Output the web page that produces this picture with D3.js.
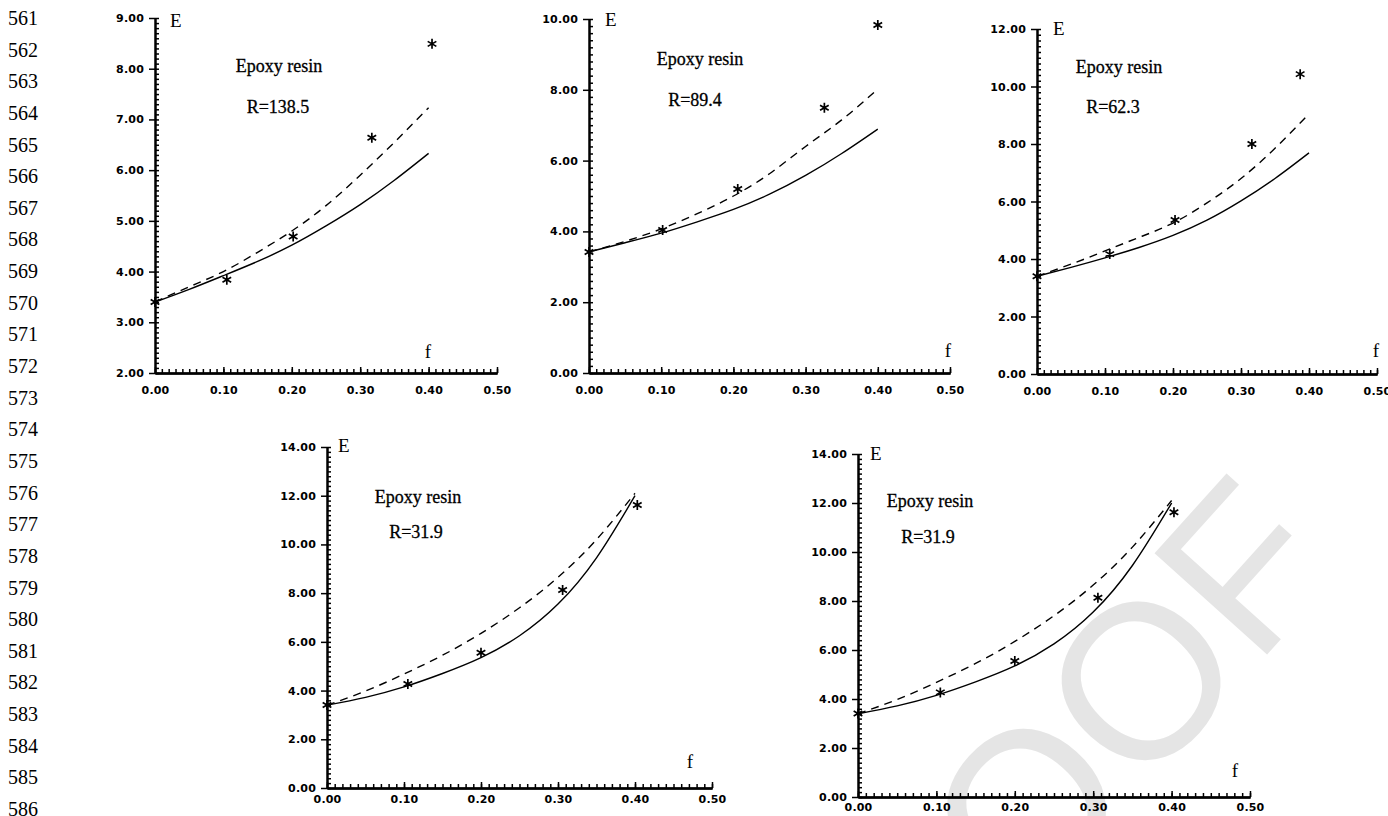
<!DOCTYPE html>
<html>
<head>
<meta charset="utf-8">
<script src="https://cdn.jsdelivr.net/npm/d3@7"></script>
<style>
body{margin:0;background:#fff;}
svg{display:block;}
.ticklab{font-family:"DejaVu Sans",sans-serif;font-size:11px;font-weight:bold;letter-spacing:0.2px;fill:#000;}
.serif{font-family:"Liberation Serif","Times New Roman",serif;fill:#000;}
</style>
</head>
<body>
<svg id="chart" width="1388" height="816"></svg>
<script>
// values
const fGrid = [0, 0.05, 0.10, 0.15, 0.20, 0.25, 0.30, 0.35, 0.40];
const xTickVals = [0, 0.1, 0.2, 0.3, 0.4, 0.5];
const yDomains = [[2, 9], [0, 10], [0, 12], [0, 14], [0, 14]];
const yMajorStep = [1, 2, 2, 2, 2];
const materialName = "Epoxy resin";
const rLabels = ["R=138.5", "R=89.4", "R=62.3", "R=31.9", "R=31.9"];
const lineNumbers = d3.range(561, 587);

const solid1  = [3.40, 3.65, 3.92, 4.20, 4.52, 4.90, 5.32, 5.80, 6.33];
const dashed1 = [3.40, 3.70, 4.00, 4.38, 4.80, 5.30, 5.90, 6.55, 7.23];
const starF1  = [0, 0.105, 0.202, 0.317, 0.405];
const starE1  = [3.40, 3.84, 4.69, 6.64, 8.49];

const solid2  = [3.42, 3.68, 3.95, 4.27, 4.62, 5.05, 5.58, 6.20, 6.89];
const dashed2 = [3.42, 3.72, 4.07, 4.50, 5.00, 5.63, 6.40, 7.15, 8.02];
const starF2  = [0, 0.102, 0.206, 0.326, 0.40];
const starE2  = [3.42, 4.04, 5.20, 7.49, 9.83];

const solid3  = [3.40, 3.71, 4.04, 4.40, 4.82, 5.35, 6.02, 6.80, 7.69];
const dashed3 = [3.40, 3.82, 4.28, 4.75, 5.25, 5.95, 6.80, 7.85, 9.05];
const starF3  = [0, 0.107, 0.203, 0.316, 0.387];
const starE3  = [3.40, 4.17, 5.36, 8.00, 10.43];

// bottom two panels show the same case
const solid4  = [3.40, 3.72, 4.15, 4.70, 5.35, 6.25, 7.55, 9.45, 12.00];
const dashed4 = [3.40, 3.98, 4.68, 5.45, 6.35, 7.40, 8.65, 10.20, 12.10];
const starF4  = [0, 0.105, 0.20, 0.306, 0.403];
const starE4  = [3.41, 4.27, 5.55, 8.13, 11.62];

const solids  = [solid1, solid2, solid3, solid4, solid4];
const dasheds = [dashed1, dashed2, dashed3, dashed4, dashed4];
const starFs  = [starF1, starF2, starF3, starF4, starF4];
const starEs  = [starE1, starE2, starE3, starE4, starE4];

// panel frames in page pixels
const layout = [
  {x0:155, x1:497, yTop:18, yBot:373, labDy:20, E:[170,27], name:[279,72], r:[278,113], f:[428,358]},
  {x0:589, x1:950, yTop:19, yBot:373, labDy:20, E:[605,26], name:[700,65], r:[695,106], f:[948,357]},
  {x0:1037, x1:1377, yTop:29, yBot:374, labDy:20, E:[1053,35], name:[1119,73], r:[1113,113], f:[1376,357]},
  {x0:327, x1:712, yTop:447, yBot:788, labDy:14, E:[338,452], name:[418,503], r:[416,538], f:[690,768]},
  {x0:858, x1:1250, yTop:454, yBot:797, labDy:13, E:[870,460], name:[930,507], r:[928,543], f:[1235,777]}
];

const svg = d3.select("#chart");

// watermark
svg.append("text")
  .attr("transform", "translate(1040,820) rotate(-48)")
  .attr("text-anchor", "middle")
  .attr("dominant-baseline", "middle")
  .style("font-family", "Liberation Sans, Arial, sans-serif")
  .style("font-size", "220px")
  .style("fill", "#e5e5e5")
  .text("PROOF");

// line numbers down the margin
svg.append("g").selectAll("text")
  .data(lineNumbers)
  .join("text")
  .attr("class", "serif")
  .attr("x", 8)
  .attr("y", (d, i) => 25 + i * 31.64)
  .style("font-size", "20px")
  .text(d => d);

function drawPanel(i) {
  const L = layout[i];
  const g = svg.append("g");
  const x = d3.scaleLinear().domain([0, 0.5]).range([L.x0, L.x1]);
  const y = d3.scaleLinear().domain(yDomains[i]).range([L.yBot, L.yTop]);
  const [yMin, yMax] = yDomains[i];
  const step = yMajorStep[i];

  const yMajor = d3.range(yMin, yMax + 1e-9, step);
  const yMinor = d3.range(yMin, yMax + 1e-9, step / 10);
  const xMinor = d3.range(0, 0.5 + 1e-9, 0.01);

  // y axis: major ticks out to the left, minor ticks inside
  g.append("g").attr("transform", `translate(${L.x0},0)`)
    .call(d3.axisLeft(y).tickValues(yMajor).tickFormat(d3.format(".2f")).tickSize(6).tickSizeOuter(0).tickPadding(5));
  g.append("g").attr("class", "minor").attr("transform", `translate(${L.x0},0)`)
    .call(d3.axisRight(y).tickValues(yMinor).tickFormat("").tickSize(4).tickSizeOuter(0));

  // x axis
  g.append("g").attr("transform", `translate(0,${L.yBot})`)
    .call(d3.axisBottom(x).tickValues(xTickVals).tickFormat(d3.format(".2f")).tickSize(0).tickSizeOuter(0).tickPadding(L.labDy - 7));
  g.append("g").attr("class", "minor").attr("transform", `translate(0,${L.yBot})`)
    .call(d3.axisTop(x).tickValues(xMinor).tickFormat("").tickSize(4).tickSizeOuter(0));
  g.append("g").attr("transform", `translate(0,${L.yBot})`)
    .call(d3.axisTop(x).tickValues(xTickVals).tickFormat("").tickSize(6).tickSizeOuter(0));

  g.selectAll(".domain").attr("stroke", "#000").attr("stroke-width", 2);
  g.selectAll(".tick line").attr("stroke", "#000").attr("stroke-width", 1.5);
  g.selectAll(".tick text").attr("class", "ticklab").attr("font-family", null).attr("font-size", null);

  // curves
  const line = d3.line()
    .x((d, k) => x(fGrid[k]))
    .y(d => y(d))
    .curve(d3.curveNatural);

  g.append("path").datum(solids[i])
    .attr("d", line).attr("fill", "none")
    .attr("stroke", "#000").attr("stroke-width", 1.4);
  g.append("path").datum(dasheds[i])
    .attr("d", line).attr("fill", "none")
    .attr("stroke", "#000").attr("stroke-width", 1.4)
    .attr("stroke-dasharray", "8,6");

  // measured points
  const star = d3.symbol().type(d3.symbolAsterisk).size(70);
  g.selectAll(".star").data(starFs[i].map((f, k) => [f, starEs[i][k]]))
    .join("path")
    .attr("class", "star")
    .attr("transform", d => `translate(${x(d[0])},${y(d[1])})`)
    .attr("d", star)
    .attr("fill", "none").attr("stroke", "#000").attr("stroke-width", 1.7);

  // labels
  g.append("text").attr("class", "serif").attr("x", L.E[0]).attr("y", L.E[1])
    .style("font-size", "19px").text("E");
  g.append("text").attr("class", "serif").attr("x", L.name[0]).attr("y", L.name[1])
    .attr("text-anchor", "middle").style("font-size", "18px")
    .attr("stroke", "#000").attr("stroke-width", 0.3).text(materialName);
  g.append("text").attr("class", "serif").attr("x", L.r[0]).attr("y", L.r[1])
    .attr("text-anchor", "middle").style("font-size", "18px")
    .attr("stroke", "#000").attr("stroke-width", 0.3).text(rLabels[i]);
  g.append("text").attr("class", "serif").attr("x", L.f[0]).attr("y", L.f[1])
    .attr("text-anchor", "middle").style("font-size", "19px").text("f");
}

d3.range(5).forEach(drawPanel);
</script>
</body>
</html>
